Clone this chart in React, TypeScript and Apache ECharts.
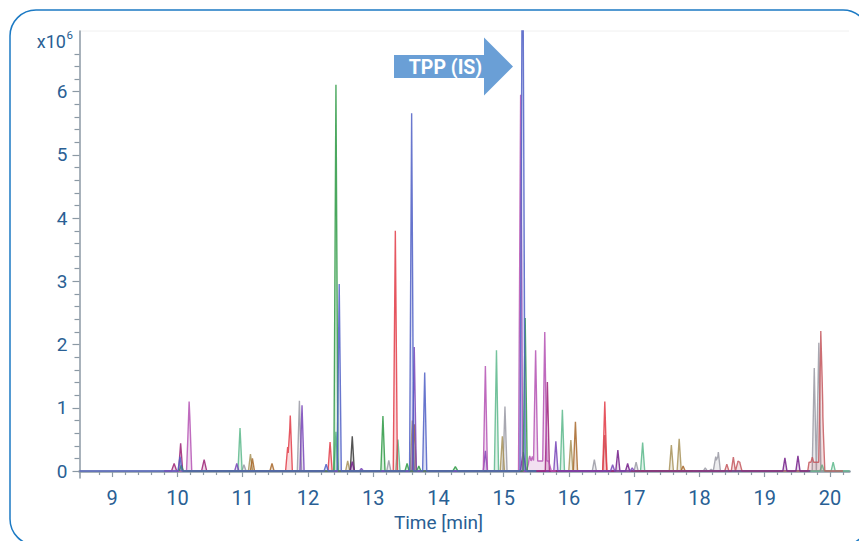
import { useEffect, useRef } from "react";
import * as echarts from "echarts";

// Axis ranges (minutes / x10^6 counts)
const xRange: [number, number] = [8.5, 20.3];
const yRange: [number, number] = [-0.11, 6.96];
const xTickLabels = [9, 10, 11, 12, 13, 14, 15, 16, 17, 18, 19, 20];
const yTickLabels = [0, 1, 2, 3, 4, 5, 6];
const yMinorTop = 6.6;

// Peaks: [retention time, height (x10^6), half base width, half flat top]
type Peak = [number, number, number?, number?];

const peaksBlue: Peak[] = [[10.04, 0.23], [12.28, 0.11], [12.48, 2.96], [13.59, 5.66], [13.79, 1.56], [15.29, 8.0, 0.034, 0.006]];
const peaksMagenta: Peak[] = [[10.18, 1.03, 0.04], [10.19, 0.1], [14.72, 1.66], [15.26, 5.95], [15.54, 0.16, 0.04, 0.15], [15.4, 0.08, 0.02], [15.44, 0.07, 0.02], [15.49, 1.75], [15.63, 2.04]];
const peaksDarkMagenta: Peak[] = [[9.95, 0.12, 0.04], [10.05, 0.44], [10.41, 0.18, 0.04], [15.67, 1.41]];
const peaksGreen: Peak[] = [[10.06, 0.09], [12.43, 6.11], [13.15, 0.87], [13.52, 0.12], [13.7, 0.08], [14.26, 0.07, 0.04], [15.33, 2.42]];
const peaksTeal: Peak[] = [[10.96, 0.68], [12.43, 0.62], [13.38, 0.5], [14.89, 1.91], [15.9, 0.97], [17.13, 0.45], [19.88, 0.1], [20.05, 0.14]];
const peaksRed: Peak[] = [[11.69, 0.38], [11.73, 0.88], [12.34, 0.46], [13.34, 3.8], [16.55, 1.1]];
const peaksPurple: Peak[] = [[10.91, 0.12], [11.91, 1.04], [12.82, 0.04], [13.63, 1.96], [14.72, 0.32], [15.8, 0.47], [16.67, 0.1], [16.97, 0.05]];
const peaksDarkPurple: Peak[] = [[12.68, 0.15], [15.3, 0.3, 0.045], [16.75, 0.33], [16.9, 0.12], [19.31, 0.21], [19.51, 0.24]];
const peaksGray: Peak[] = [[11.02, 0.1], [11.87, 1.11], [13.24, 0.17], [15.02, 1.02], [16.39, 0.18], [17.03, 0.14], [18.09, 0.05], [18.18, 0.03], [18.25, 0.23], [18.29, 0.3], [19.76, 1.63], [19.83, 2.03]];
const peaksOlive: Peak[] = [[11.12, 0.27], [12.61, 0.16], [13.6, 0.8], [14.98, 0.55], [16.03, 0.49], [17.57, 0.41], [17.69, 0.51]];
const peaksBrown: Peak[] = [[11.15, 0.2], [11.45, 0.12], [13.63, 0.74], [16.1, 0.78], [17.75, 0.08]];
const peaksBlack: Peak[] = [[12.68, 0.55]];
const peaksBrownRed: Peak[] = [[16.55, 0.57], [18.42, 0.11], [18.52, 0.22], [18.59, 0.15], [18.62, 0.13], [19.78, 0.14, 0.02, 0.1], [19.73, 0.08, 0.02], [19.86, 2.02], [19.89, 0.86]];

const traces: { name: string; color: string; range: [number, number]; peaks: Peak[] }[] = [
  { name: "gray", color: "#9a9aa4", range: [10.9, 20.0], peaks: peaksGray },
  { name: "olive", color: "#a8935a", range: [10.9, 17.9], peaks: peaksOlive },
  { name: "brown", color: "#a8692c", range: [11.0, 17.9], peaks: peaksBrown },
  { name: "teal", color: "#5db88c", range: [10.7, 20.3], peaks: peaksTeal },
  { name: "black", color: "#3a3a3a", range: [12.5, 12.9], peaks: peaksBlack },
  { name: "brownred", color: "#c4585e", range: [16.4, 20.2], peaks: peaksBrownRed },
  { name: "red", color: "#e23c48", range: [11.5, 16.7], peaks: peaksRed },
  { name: "darkpurple", color: "#741f8a", range: [12.5, 19.7], peaks: peaksDarkPurple },
  { name: "purple", color: "#7845b8", range: [10.8, 17.0], peaks: peaksPurple },
  { name: "darkmagenta", color: "#9c2276", range: [9.8, 15.8], peaks: peaksDarkMagenta },
  { name: "magenta", color: "#b554b4", range: [9.8, 15.8], peaks: peaksMagenta },
  { name: "green", color: "#2f9a45", range: [10.6, 15.5], peaks: peaksGreen },
  { name: "blue", color: "#5060c6", range: [8.5, 15.5], peaks: peaksBlue },
];

function buildTrace(peaks: Peak[], range: [number, number]): number[][] {
  const norm = peaks.map(([t, h, hw, flat]) => [t, h, hw ?? 0.032, flat ?? 0]);
  const xs = new Set<number>([range[0], range[1]]);
  norm.forEach(([t, , hw, flat]) => {
    [t - flat - hw, t - flat, t + flat, t + flat + hw].forEach((v) => xs.add(+v.toFixed(4)));
  });
  const sorted = Array.from(xs).sort((a, b) => a - b);
  return sorted.map((x) => {
    let v = 0;
    norm.forEach(([t, h, hw, flat]) => {
      const d = Math.abs(x - t);
      if (d <= flat) v += h;
      else if (d < flat + hw) v += h * (1 - (d - flat) / hw);
    });
    return [x, +v.toFixed(4)];
  });
}

const textColor = "#2a5f94";
const axisColor = "#8b99a4";
const font = "Roboto, 'Open Sans', sans-serif";

export default function App() {
  const ref = useRef<HTMLDivElement>(null);
  useEffect(() => {
    if (!ref.current) return;
    const chart = echarts.init(ref.current, undefined, { renderer: "svg" });

    const xMinor: number[] = [];
    for (let i = Math.round(xRange[0] * 5) + 1; i <= Math.floor(xRange[1] * 5); i++) {
      if (i % 5 !== 0) xMinor.push(+(i / 5).toFixed(1));
    }
    const yMinor: number[] = [];
    for (let i = 1; i <= Math.round(yMinorTop * 5); i++) {
      if (i % 5 !== 0) yMinor.push(+(i / 5).toFixed(1));
    }

    const series = traces.map((tr, i) => ({
      name: tr.name,
      type: "line",
      xAxisIndex: 0,
      yAxisIndex: 0,
      data: buildTrace(tr.peaks, tr.range),
      showSymbol: false,
      symbol: "none",
      clip: true,
      z: 2 + i,
      lineStyle: { color: tr.color, width: 1.4, opacity: 0.85 },
      itemStyle: { color: tr.color },
      areaStyle: { color: tr.color, opacity: 0.18 },
    }));

    chart.setOption({
      animation: false,
      grid: { left: 79.5, right: 9.5, top: 31, bottom: 63, containLabel: false },
      xAxis: [
        {
          type: "value",
          min: xRange[0],
          max: xRange[1],
          axisLine: { show: true, lineStyle: { color: axisColor, width: 2.5 } },
          axisTick: { show: true, customValues: xTickLabels, length: 6, lineStyle: { color: axisColor, width: 1.2 } },
          axisLabel: { customValues: xTickLabels, margin: 10, fontSize: 20, color: textColor, fontFamily: font },
          splitLine: { show: false },
        },
        {
          type: "value",
          min: xRange[0],
          max: xRange[1],
          position: "bottom",
          axisLine: { show: false },
          axisTick: { show: true, customValues: xMinor, length: 4, lineStyle: { color: axisColor, width: 1.2 } },
          axisLabel: { show: false },
          splitLine: { show: false },
        },
      ],
      yAxis: [
        {
          type: "value",
          min: yRange[0],
          max: yRange[1],
          axisLine: { show: true, lineStyle: { color: axisColor, width: 1.5 } },
          axisTick: { show: true, customValues: yTickLabels, length: 7, lineStyle: { color: axisColor, width: 1.2 } },
          axisLabel: { customValues: yTickLabels, margin: 12, fontSize: 19, color: textColor, fontFamily: font },
          splitLine: { show: false },
        },
        {
          type: "value",
          min: yRange[0],
          max: yRange[1],
          position: "left",
          axisLine: { show: false },
          axisTick: { show: true, customValues: yMinor, length: 5, lineStyle: { color: axisColor, width: 1.2 } },
          axisLabel: { show: false },
          splitLine: { show: false },
        },
      ],
      series,
      graphic: [
        {
          type: "rect",
          shape: { x: 10, y: 10, width: 859, height: 535, r: 26 },
          style: { fill: "none", stroke: "#1c7ac4", lineWidth: 1.5 },
          silent: true,
          z: 0,
        },
        {
          type: "line",
          shape: { x1: 81, y1: 31, x2: 849, y2: 31 },
          style: { stroke: "#f0f0f0", lineWidth: 1 },
          silent: true,
          z: 0,
        },
        {
          type: "polygon",
          shape: {
            points: [[394, 55], [484, 55], [484, 37.5], [513, 66.5], [484, 95.5], [484, 78], [394, 78]],
          },
          style: { fill: "#6a9fd6" },
          z: 100,
        },
        {
          type: "text",
          x: 445.5,
          y: 67,
          style: { text: "TPP (IS)", fill: "#ffffff", fontSize: 19.5, fontWeight: "bold", fontFamily: font, align: "center", verticalAlign: "middle" },
          z: 101,
        },
        {
          type: "text",
          x: 66,
          y: 41,
          style: { text: "x10", fill: textColor, fontSize: 18, fontFamily: font, align: "right", verticalAlign: "middle" },
          z: 101,
        },
        {
          type: "text",
          x: 66.5,
          y: 35,
          style: { text: "6", fill: textColor, fontSize: 11.5, fontFamily: font, align: "left", verticalAlign: "middle" },
          z: 101,
        },
        {
          type: "text",
          x: 438.5,
          y: 522,
          style: { text: "Time [min]", fill: textColor, fontSize: 19, fontFamily: font, align: "center", verticalAlign: "middle" },
          z: 101,
        },
      ],
    });
    return () => chart.dispose();
  }, []);
  return <div ref={ref} style={{ position: "fixed", left: 0, top: 0, width: 859, height: 541, background: "#ffffff" }} />;
}
